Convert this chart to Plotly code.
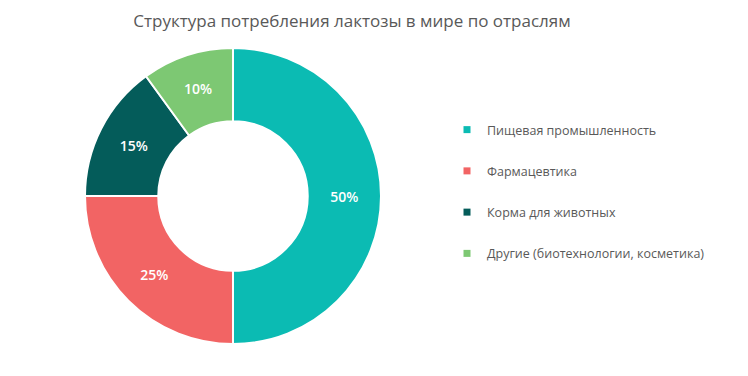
import plotly.graph_objects as go

categories = ["Пищевая промышленность", "Фармацевтика", "Корма для животных",
              "Другие (биотехнологии, косметика)"]
values = [50, 25, 15, 10]
colors = ["#0BBBB3", "#F26464", "#045C5A", "#7DC873"]
title = "Структура потребления лактозы в мире по отраслям"

W, H = 748, 376
OFF = 8  # page body margin offset
cx, cy, r = 233 - OFF, 196 - OFF, 148

fig = go.Figure()
fig.add_trace(go.Pie(
    labels=categories, values=values, hole=0.505, sort=False,
    direction="clockwise", rotation=0,
    marker=dict(colors=colors, line=dict(color="white", width=2)),
    textinfo="percent", textposition="inside",
    insidetextfont=dict(color="white", size=14, family="Open Sans", weight=600),
    showlegend=False, hoverinfo="label+percent",
    domain=dict(x=[(cx - r) / W, (cx + r) / W],
                y=[(H - cy - r) / H, (H - cy + r) / H]),
))
for name, col in zip(categories, colors):
    fig.add_trace(go.Scatter(x=[None], y=[None], mode="markers", name=name,
                             marker=dict(symbol="square", size=7, color=col),
                             legendgroup=name, showlegend=True))

fig.update_layout(
    width=W, height=H,
    margin=dict(l=0, r=0, t=0, b=0),
    paper_bgcolor="white", plot_bgcolor="white",
    font=dict(family="Open Sans", color="#595959"),
    title=dict(text=title, x=(352 - OFF) / W, xanchor="center",
               y=1 - (21 - OFF) / H, yanchor="middle",
               font=dict(size=17, color="#595959", family="Open Sans")),
    xaxis=dict(visible=False), yaxis=dict(visible=False),
    legend=dict(x=(447 - OFF) / W, xanchor="left", y=1 - (117 - OFF - 2) / H, yanchor="top",
                font=dict(size=12.5, color="#595959"), tracegroupgap=22,
                bgcolor="rgba(0,0,0,0)"),
)
fig.write_html("out.html")
